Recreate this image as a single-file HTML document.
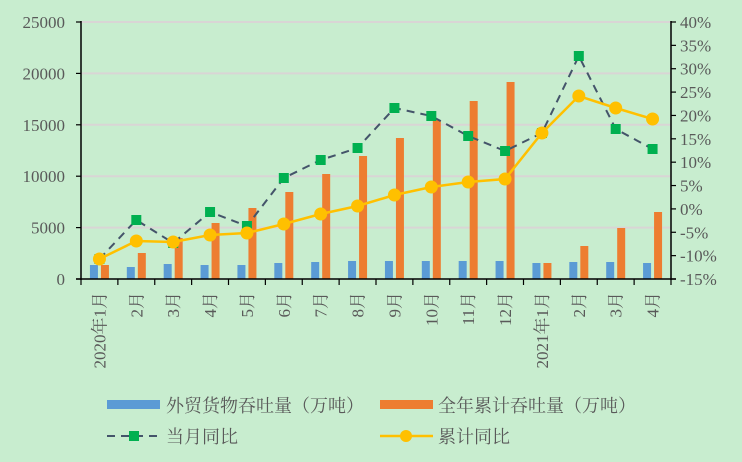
<!DOCTYPE html>
<html><head><meta charset="utf-8"><style>
html,body{margin:0;padding:0;background:#c8edcf;}
svg{display:block;}
text{font-family:"Liberation Serif","Noto Serif CJK SC","Noto Sans CJK SC",serif;fill:#595959;}
</style></head><body>
<svg width="742" height="462" viewBox="0 0 742 462" xmlns="http://www.w3.org/2000/svg">
<rect width="742" height="462" fill="#c8edcf"/>
<g stroke="#d9d5d5" stroke-width="2">
<line x1="81" y1="22" x2="671" y2="22"/>
<line x1="81" y1="73.4" x2="671" y2="73.4"/>
<line x1="81" y1="124.8" x2="671" y2="124.8"/>
<line x1="81" y1="176.2" x2="671" y2="176.2"/>
<line x1="81" y1="227.6" x2="671" y2="227.6"/>
</g>
<g id="bars"></g>
<g stroke="#000" stroke-width="1.5" fill="none">
<line x1="81" y1="21" x2="81" y2="280"/>
<line x1="671" y1="21" x2="671" y2="280"/>
<line x1="76" y1="279" x2="676" y2="279"/>
</g>
<g id="ticks" stroke="#000" stroke-width="1.2"></g>
<g font-size="17" text-anchor="end" id="lt"></g>
<g font-size="17" text-anchor="start" id="rt"></g>
<g id="lines"></g>
<g font-size="17" id="xl"></g>
<!-- legend -->
<rect x="107" y="400" width="53" height="9" fill="#5b9bd5"/>
<text x="166" y="412" font-size="18">外贸货物吞吐量（万吨）</text>
<rect x="380" y="400" width="53" height="9" fill="#ed7d31"/>
<text x="438" y="412" font-size="18">全年累计吞吐量（万吨）</text>
<line x1="107" y1="436" x2="160" y2="436" stroke="#44546a" stroke-width="2" stroke-dasharray="8,6"/>
<rect x="129" y="431" width="10" height="10" fill="#00b050"/>
<text x="166" y="443" font-size="18">当月同比</text>
<line x1="380" y1="436" x2="433" y2="436" stroke="#ffc000" stroke-width="2.5"/>
<circle cx="406" cy="436" r="6" fill="#ffc000"/>
<text x="438" y="443" font-size="18">累计同比</text>
</svg>
<script>
var ns="http://www.w3.org/2000/svg";
function el(t,a,p){var e=document.createElementNS(ns,t);for(var k in a)e.setAttribute(k,a[k]);document.getElementById(p).appendChild(e);return e;}
var w=590/16,cx=function(i){return 81+w/2+w*i;};
var blue=[265,267,264,265,265,263,262,261,261,261,261,261,263,262,262,263];
var orng=[265,253,238,223,208,192,174,156,138,120,101,82,263,246,228,212];
for(var i=0;i<16;i++){
 el("rect",{x:cx(i)-9.5,y:blue[i],width:8,height:279-blue[i],fill:"#5b9bd5"},"bars");
 el("rect",{x:cx(i)+1.5,y:orng[i],width:8,height:279-orng[i],fill:"#ed7d31"},"bars");
}
for(var i=0;i<=16;i++){var x=81+w*i;el("line",{x1:x,y1:279,x2:x,y2:285},"ticks");}
for(var k=0;k<=5;k++){var y=279-k*51.4;el("line",{x1:76,y1:y,x2:81,y2:y},"ticks");
 var t=el("text",{x:65,y:y+6},"lt");t.textContent=String(k*5000);}
for(var k=0;k<=11;k++){var y=279-k*257/11;el("line",{x1:671,y1:y,x2:676,y2:y},"ticks");
 var t=el("text",{x:680,y:y+6},"rt");t.textContent=(k*5-15)+"%";}
var g=[259,220,243,212,226,178,160,148,108,116,136,151,133,56,129,149];
var yl=[259,241,242,235,233,224,214,206,195,187,182,179,133,96,108,119];
var p1=g.map(function(v,i){return cx(i)+","+v}).join(" ");
var p2=yl.map(function(v,i){return cx(i)+","+v}).join(" ");
el("polyline",{points:p1,fill:"none",stroke:"#44546a","stroke-width":2,"stroke-dasharray":"8,6"},"lines");
for(var i=0;i<16;i++)el("rect",{x:cx(i)-5,y:g[i]-5,width:10,height:10,fill:"#00b050"},"lines");
el("polyline",{points:p2,fill:"none",stroke:"#ffc000","stroke-width":2.5},"lines");
for(var i=0;i<16;i++)el("circle",{cx:cx(i),cy:yl[i],r:6.5,fill:"#ffc000"},"lines");
var labs=["2020年1月","2月","3月","4月","5月","6月","7月","8月","9月","10月","11月","12月","2021年1月","2月","3月","4月"];
for(var i=0;i<16;i++){var x=cx(i)+6;var t=el("text",{x:0,y:0,"text-anchor":"end",transform:"translate("+x+",292) rotate(-90)"},"xl");t.textContent=labs[i];}
</script>
</body></html>
